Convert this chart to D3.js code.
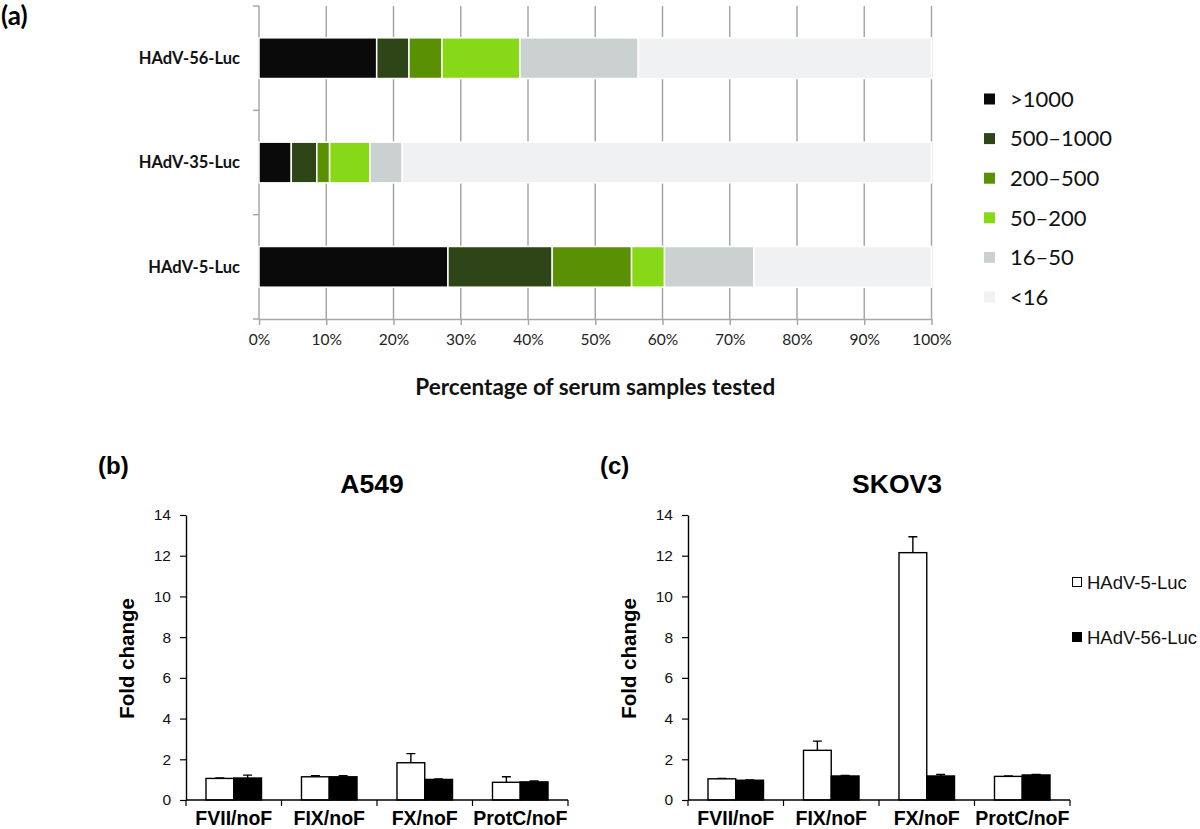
<!DOCTYPE html>
<html><head><meta charset="utf-8">
<script src="https://cdn.jsdelivr.net/npm/d3@7"></script>
<style>body{margin:0;background:#fff;} svg{display:block;}</style>
</head><body>
<svg id="chart" width="1200" height="829"></svg>
<script>
// ---------- DATA ----------
// Panel (a): neutralising titres, % of serum samples
const aCategories = ["HAdV-56-Luc", "HAdV-35-Luc", "HAdV-5-Luc"];
const titerBins = [">1000", "500–1000", "200–500", "50–200", "16–50", "<16"];
const pctHAdV56 = [17.5, 4.8, 4.9, 11.6, 17.6, 43.6];
const pctHAdV35 = [4.8, 3.8, 1.9, 6.0, 4.8, 78.7];
const pctHAdV5  = [28.1, 15.5, 11.8, 4.9, 13.3, 26.4];
const pctTicks = [0, 10, 20, 30, 40, 50, 60, 70, 80, 90, 100];
const binColors = ["#0a0a0a", "#2e4518", "#5a9104", "#87d816", "#cbd1d1", "#eff1f2"];

// Panels (b) and (c): fold change
const factorLabels = ["FVII/noF", "FIX/noF", "FX/noF", "ProtC/noF"];
const seriesNames = ["HAdV-5-Luc", "HAdV-56-Luc"];
const a549HAdV5     = [1.06, 1.14, 1.83, 0.87];
const a549HAdV5Err  = [0.02, 0.05, 0.45, 0.27];
const a549HAdV56    = [1.08, 1.14, 1.01, 0.89];
const a549HAdV56Err = [0.14, 0.05, 0.02, 0.04];
const skovHAdV5     = [1.04, 2.44, 12.15, 1.16];
const skovHAdV5Err  = [0.02, 0.45, 0.78, 0.02];
const skovHAdV56    = [0.97, 1.18, 1.18, 1.23];
const skovHAdV56Err = [0.02, 0.02, 0.07, 0.02];
const foldTicks = [0, 2, 4, 6, 8, 10, 12, 14];

// ---------- DRAW ----------
const svg = d3.select("#chart");
const fontA = "Lato, 'Open Sans', sans-serif";
const fontB = "'Liberation Sans', Arial, sans-serif";
const gridColor = "#a4a8a8";

// ===== Panel (a) =====
const aX = d3.scaleLinear().domain([0, 100]).range([259, 931.5]);
const aY = d3.scaleBand().domain(aCategories).range([6, 319]);
const aBottom = aY.range()[1], aTop = aY.range()[0];
const gA = svg.append("g");

gA.append("text").attr("x", 1).attr("y", 25)
  .attr("font-family", fontA).attr("font-weight", 700).attr("font-size", 26)
  .text("(a)");

// gridlines
gA.append("g").selectAll("line").data(pctTicks.filter(d => d > 0)).join("line")
  .attr("x1", d => aX(d)).attr("x2", d => aX(d))
  .attr("y1", aTop).attr("y2", aBottom)
  .attr("stroke", gridColor).attr("stroke-width", 1.5);

// left axis line + boundary ticks
gA.append("line").attr("x1", aX(0)).attr("x2", aX(0)).attr("y1", aTop).attr("y2", aBottom)
  .attr("stroke", gridColor).attr("stroke-width", 1.5);
const boundaries = aCategories.map(c => aY(c)).concat([aBottom]);
gA.append("g").selectAll("line").data(boundaries).join("line")
  .attr("x1", aX(0) - 6).attr("x2", aX(0)).attr("y1", d => d).attr("y2", d => d)
  .attr("stroke", gridColor).attr("stroke-width", 1.5);

// bottom axis
const axA = gA.append("g").attr("transform", `translate(0,${aBottom})`)
  .call(d3.axisBottom(aX).tickValues(pctTicks).tickFormat(d => d + "%").tickSize(6).tickSizeOuter(0).tickPadding(9));
axA.select(".domain").attr("stroke", gridColor).attr("stroke-width", 1.5);
axA.selectAll(".tick line").attr("stroke", gridColor).attr("stroke-width", 1.5);
axA.selectAll(".tick text").attr("font-family", fontA).attr("font-size", 15.5).attr("fill", "#222");

gA.append("text").attr("x", (aX(0) + aX(100)) / 2).attr("y", 395)
  .attr("text-anchor", "middle").attr("font-family", fontA).attr("font-weight", 700)
  .attr("font-size", 22.5).attr("fill", "#111").text("Percentage of serum samples tested");

// stacked bars
const rows = [pctHAdV56, pctHAdV35, pctHAdV5].map((vals, i) => {
  const r = {cat: aCategories[i]};
  titerBins.forEach((b, j) => r[b] = vals[j]);
  return r;
});
const stacked = d3.stack().keys(titerBins)(rows);
const barH = aY.bandwidth() * 0.39;
const color = d3.scaleOrdinal().domain(titerBins).range(binColors);
gA.append("g").selectAll("g").data(stacked).join("g")
  .attr("fill", d => color(d.key))
  .selectAll("rect").data(d => d).join("rect")
  .attr("x", d => aX(d[0]))
  .attr("width", d => aX(d[1]) - aX(d[0]))
  .attr("y", d => aY(d.data.cat) + (aY.bandwidth() - barH) / 2)
  .attr("height", barH)
  .attr("stroke", "#fff").attr("stroke-width", 1.5);

// category labels
gA.append("g").selectAll("text").data(aCategories).join("text")
  .attr("x", 240).attr("y", d => aY(d) + aY.bandwidth() / 2).attr("dy", "0.35em")
  .attr("text-anchor", "end").attr("font-family", fontA).attr("font-weight", 700)
  .attr("font-size", 16.5).attr("fill", "#111").text(d => d);

// legend
const legA = gA.append("g").selectAll("g").data(titerBins).join("g")
  .attr("transform", (d, i) => `translate(984,${99 + i * 39.6})`);
legA.append("rect").attr("x", 0).attr("y", -5.5).attr("width", 11).attr("height", 11)
  .attr("fill", d => color(d));
legA.append("text").attr("x", 26).attr("y", 0).attr("dy", "0.35em")
  .attr("font-family", fontA).attr("font-size", 22).attr("fill", "#111").text(d => d);

// ===== Panels (b) and (c) =====
function foldPanel(cfg) {
  const g = svg.append("g");
  const y = d3.scaleLinear().domain([0, 14]).range([800, 515]);
  const x0 = d3.scaleBand().domain(factorLabels).range([cfg.left, cfg.left + 382]);
  const x1 = d3.scaleBand().domain(seriesNames).range([0, x0.bandwidth()]).paddingOuter(0.72);
  const data = factorLabels.map((f, i) => ({f, vals: [
    {s: seriesNames[0], v: cfg.s1[i], e: cfg.e1[i]},
    {s: seriesNames[1], v: cfg.s2[i], e: cfg.e2[i]}]}));

  g.append("text").attr("x", cfg.left - 88).attr("y", 474)
    .attr("font-family", fontB).attr("font-weight", 700).attr("font-size", 24).text(cfg.tag);
  g.append("text").attr("x", cfg.titleX).attr("y", 493).attr("text-anchor", "middle")
    .attr("font-family", fontB).attr("font-weight", 700).attr("font-size", 26.5).text(cfg.title);
  g.append("text").attr("transform", `translate(${cfg.left - 52},${(y(0) + y(14)) / 2 + 1}) rotate(-90)`)
    .attr("text-anchor", "middle").attr("font-family", fontB).attr("font-weight", 700)
    .attr("font-size", 20.5).text("Fold change");

  // y axis
  const ay = g.append("g").attr("transform", `translate(${cfg.left},0)`)
    .call(d3.axisLeft(y).tickValues(foldTicks).tickSize(6).tickSizeOuter(0).tickPadding(9));
  ay.select(".domain").attr("stroke", "#000").attr("stroke-width", 1.4);
  ay.selectAll(".tick line").attr("stroke", "#000").attr("stroke-width", 1.2);
  ay.selectAll(".tick text").attr("font-family", fontB).attr("font-size", 15.5).attr("fill", "#111");

  // bars
  const grp = g.append("g").selectAll("g").data(data).join("g")
    .attr("transform", d => `translate(${x0(d.f)},0)`);
  grp.selectAll("path.err").data(d => d.vals).join("path").attr("class", "err")
    .attr("d", d => {
      const cx = x1(d.s) + x1.bandwidth() / 2;
      return `M${cx},${y(d.v)}V${y(d.v + d.e)}M${cx - 4.5},${y(d.v + d.e)}H${cx + 4.5}`;
    })
    .attr("stroke", "#000").attr("stroke-width", 1.4).attr("fill", "none");
  grp.selectAll("rect").data(d => d.vals).join("rect")
    .attr("x", d => x1(d.s)).attr("width", x1.bandwidth())
    .attr("y", d => y(d.v)).attr("height", d => y(0) - y(d.v))
    .attr("fill", d => d.s === seriesNames[0] ? "#fff" : "#000")
    .attr("stroke", "#000").attr("stroke-width", 1.4);

  // x axis line and boundary ticks
  g.append("line").attr("x1", cfg.left).attr("x2", cfg.left + 382).attr("y1", y(0)).attr("y2", y(0))
    .attr("stroke", "#000").attr("stroke-width", 1.4);
  const bnd = factorLabels.map(f => x0(f)).concat([cfg.left + 382]);
  g.append("g").selectAll("line").data(bnd).join("line")
    .attr("x1", d => d).attr("x2", d => d).attr("y1", y(0)).attr("y2", y(0) + 6)
    .attr("stroke", "#000").attr("stroke-width", 1.2);
  g.append("g").selectAll("text").data(factorLabels).join("text")
    .attr("x", d => x0(d) + x0.bandwidth() / 2).attr("y", 824.5).attr("text-anchor", "middle")
    .attr("font-family", fontB).attr("font-weight", 700).attr("font-size", 19.5).text(d => d);
  return g;
}

foldPanel({left: 186, tag: "(b)", title: "A549", titleX: 372,
  s1: a549HAdV5, e1: a549HAdV5Err, s2: a549HAdV56, e2: a549HAdV56Err});
foldPanel({left: 688, tag: "(c)", title: "SKOV3", titleX: 897,
  s1: skovHAdV5, e1: skovHAdV5Err, s2: skovHAdV56, e2: skovHAdV56Err});

// legend for (b)/(c)
const legB = svg.append("g").selectAll("g").data(seriesNames).join("g")
  .attr("transform", (d, i) => `translate(1072,${582 + i * 55})`);
legB.append("rect").attr("x", 0.5).attr("y", -4.5).attr("width", 9).attr("height", 9)
  .attr("fill", (d, i) => i === 0 ? "#fff" : "#000").attr("stroke", "#000").attr("stroke-width", 1);
legB.append("text").attr("x", 15).attr("y", 0).attr("dy", "0.36em")
  .attr("font-family", fontB).attr("font-size", 18.5).attr("fill", "#111").text(d => d);
</script>
</body></html>
